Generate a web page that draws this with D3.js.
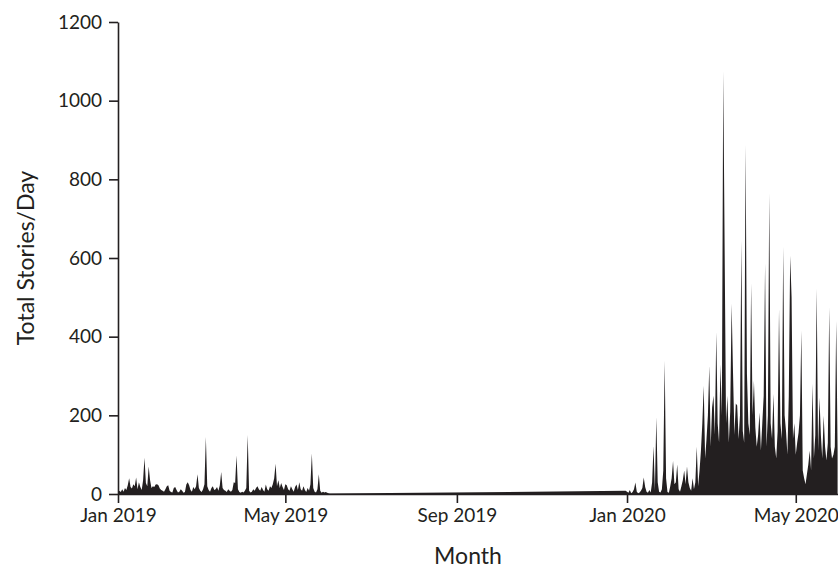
<!DOCTYPE html>
<html>
<head>
<meta charset="utf-8">
<script src="https://cdn.jsdelivr.net/npm/d3@7"></script>
<style>
  html, body { margin: 0; padding: 0; background: #fff; }
  svg { display: block; }
  .axis text { font-family: Lato, "Open Sans", sans-serif; font-size: 19px; fill: #231f20; }
  .axis path, .axis line { stroke: #231f20; stroke-width: 1.6px; }
  .title { font-family: Lato, "Open Sans", sans-serif; font-size: 23px; fill: #231f20; }
</style>
</head>
<body>
<svg id="chart" width="838" height="574"></svg>
<script>
// Daily story counts, first collection window (starting 1 Jan 2019)
const period1Start = "2019-01-01";
const period1Values = [
  3, 8, 5, 12, 6, 15, 10, 22, 40, 18, 14, 25, 20, 42, 12, 30, 18, 10, 35, 92,
  28, 20, 70, 35, 15, 20, 18, 24, 25, 22, 14, 10, 8, 6, 12, 20, 22, 8, 5, 4,
  15, 18, 10, 4, 6, 12, 8, 3, 5, 24, 30, 22, 10, 6, 18, 12, 20, 50, 15, 8,
  5, 12, 25, 145, 20, 10, 6, 15, 20, 10, 12, 18, 8, 22, 56, 15, 10, 8, 5, 12,
  8, 6, 10, 30, 28, 98, 12, 5, 3, 6, 4, 8, 15, 150, 8, 4, 6, 12, 8, 15,
  20, 12, 8, 18, 10, 6, 24, 12, 8, 20, 15, 25, 40, 77, 20, 35, 15, 28, 18, 10,
  25, 22, 12, 8, 20, 12, 6, 18, 24, 10, 30, 12, 8, 20, 10, 5, 15, 8, 25, 103,
  15, 6, 4, 12, 50, 8, 3, 6, 4, 5, 3, 2, 1
];

// Daily story counts, second collection window (starting 31 Dec 2019)
const period2Start = "2019-12-31";
const period2Values = [
  8, 6, 3, 10, 2, 5, 12, 29, 6, 2, 4, 8, 15, 42, 18, 6, 3, 10, 4, 30,
  122, 8, 195, 30, 6, 4, 12, 60, 339, 40, 5, 3, 20, 40, 84, 25, 30, 75, 12, 6,
  20, 35, 60, 25, 70, 30, 15, 8, 40, 12, 30, 120, 20, 60, 110, 180, 275, 90, 140, 200,
  326, 120, 220, 250, 150, 411, 180, 130, 330, 200, 1075, 620, 180, 250, 130, 210, 484, 309, 150, 230,
  225, 140, 200, 643, 160, 130, 887, 305, 180, 150, 535, 200, 288, 170, 120, 150, 207, 110, 180, 250,
  586, 120, 200, 764, 180, 140, 254, 120, 90, 160, 470, 180, 140, 628, 200, 160, 100, 250, 606, 500,
  140, 180, 100, 130, 156, 200, 415, 60, 40, 25, 50, 75, 110, 60, 280, 90, 150, 522, 110, 245,
  150, 90, 199, 120, 85, 130, 475, 120, 90, 100, 120, 440, 110
];

const yTicks = [0, 200, 400, 600, 800, 1000, 1200];
const xTickDates = ["2019-01-01", "2019-05-01", "2019-09-01", "2020-01-01", "2020-05-01"];
const xDomain = ["2019-01-01", "2020-06-01"];

const parse = d3.utcParse("%Y-%m-%d");
const fmt = d3.utcFormat("%b %Y");

function toSeries(start, values) {
  const t0 = parse(start);
  return values.map((v, i) => ({ date: d3.utcDay.offset(t0, i), value: v }));
}
const data = toSeries(period1Start, period1Values).concat(toSeries(period2Start, period2Values));

const svg = d3.select("#chart");
const margin = { left: 118, top: 22, bottom: 494, right: 839 };

const x = d3.scaleUtc()
  .domain(xDomain.map(parse))
  .range([margin.left, margin.right]);

const y = d3.scaleLinear()
  .domain([0, 1200])
  .range([margin.bottom, margin.top]);

const area = d3.area()
  .x(d => x(d.date))
  .y0(y(0))
  .y1(d => y(d.value))
  .curve(d3.curveLinear);

svg.append("path")
  .datum(data)
  .attr("fill", "#231f20")
  .attr("d", area);

// x axis
svg.append("g")
  .attr("class", "axis")
  .attr("transform", `translate(0,${y(0)})`)
  .call(d3.axisBottom(x)
    .tickValues(xTickDates.map(parse))
    .tickFormat(fmt)
    .tickSize(9)
    .tickSizeOuter(0)
    .tickPadding(6));

// y axis
svg.append("g")
  .attr("class", "axis")
  .attr("transform", `translate(${margin.left},0)`)
  .call(d3.axisLeft(y)
    .tickValues(yTicks)
    .tickFormat(d3.format("d"))
    .tickSize(9)
    .tickSizeOuter(0)
    .tickPadding(7));

// axis titles
svg.append("text")
  .attr("class", "title")
  .attr("x", 468)
  .attr("y", 564)
  .attr("text-anchor", "middle")
  .text("Month");

svg.append("text")
  .attr("class", "title")
  .attr("transform", `translate(34,${(margin.top + margin.bottom) / 2}) rotate(-90)`)
  .attr("text-anchor", "middle")
  .text("Total Stories/Day");
</script>
</body>
</html>
